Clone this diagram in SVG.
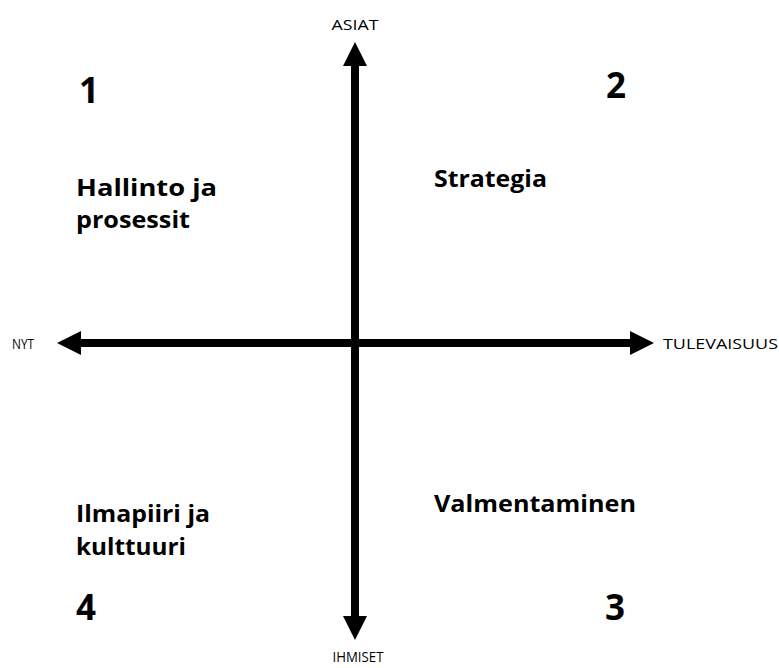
<svg xmlns="http://www.w3.org/2000/svg" width="779" height="668" viewBox="0 0 779 668">
<style>
.big{font-family:"Open Sans","Liberation Sans",sans-serif;font-weight:bold;font-size:24px;fill:#000}
.num{font-family:"Open Sans","Liberation Sans",sans-serif;font-weight:bold;font-size:35px;fill:#000}
.ax{font-family:"Open Sans","Liberation Sans",sans-serif;font-size:15px;fill:#000}
.axis{stroke:#000;stroke-width:8;fill:none}
</style>
<defs>
<marker id="ah" viewBox="0 0 24 24" refX="2" refY="12" markerWidth="24" markerHeight="24" markerUnits="userSpaceOnUse" orient="auto-start-reverse">
<path d="M0,0 L24,12 L0,24 Z" fill="#000"/>
</marker>
</defs>
<g id="connectors">
<line class="axis" x1="355" y1="64" x2="355" y2="618" marker-start="url(#ah)" marker-end="url(#ah)"/>
<line class="axis" x1="79" y1="343" x2="632" y2="343" marker-start="url(#ah)" marker-end="url(#ah)"/>
</g>
<g id="asiat"><text class="ax" x="355" y="30" text-anchor="middle" textLength="47" lengthAdjust="spacingAndGlyphs">ASIAT</text></g>
<g id="ihmiset"><text class="ax" x="358" y="662" text-anchor="middle" textLength="51" lengthAdjust="spacingAndGlyphs">IHMISET</text></g>
<g id="nyt"><text class="ax" x="12" y="349" textLength="22" lengthAdjust="spacingAndGlyphs">NYT</text></g>
<g id="tulevaisuus"><text class="ax" x="663" y="349" textLength="115" lengthAdjust="spacingAndGlyphs">TULEVAISUUS</text></g>
<g id="q1">
<text class="num" x="79" y="103">1</text>
<text class="big" x="76" y="196" textLength="141" lengthAdjust="spacingAndGlyphs">Hallinto ja</text>
<text class="big" x="76" y="228" textLength="114" lengthAdjust="spacingAndGlyphs">prosessit</text>
</g>
<g id="q2">
<text class="num" x="606" y="98">2</text>
<text class="big" x="434" y="187" textLength="113" lengthAdjust="spacingAndGlyphs">Strategia</text>
</g>
<g id="q3">
<text class="num" x="605" y="620">3</text>
<text class="big" x="434" y="512" textLength="202" lengthAdjust="spacingAndGlyphs">Valmentaminen</text>
</g>
<g id="q4">
<text class="num" x="76" y="620">4</text>
<text class="big" x="76" y="522" textLength="134" lengthAdjust="spacingAndGlyphs">Ilmapiiri ja</text>
<text class="big" x="76" y="555" textLength="110" lengthAdjust="spacingAndGlyphs">kulttuuri</text>
</g>
</svg>
